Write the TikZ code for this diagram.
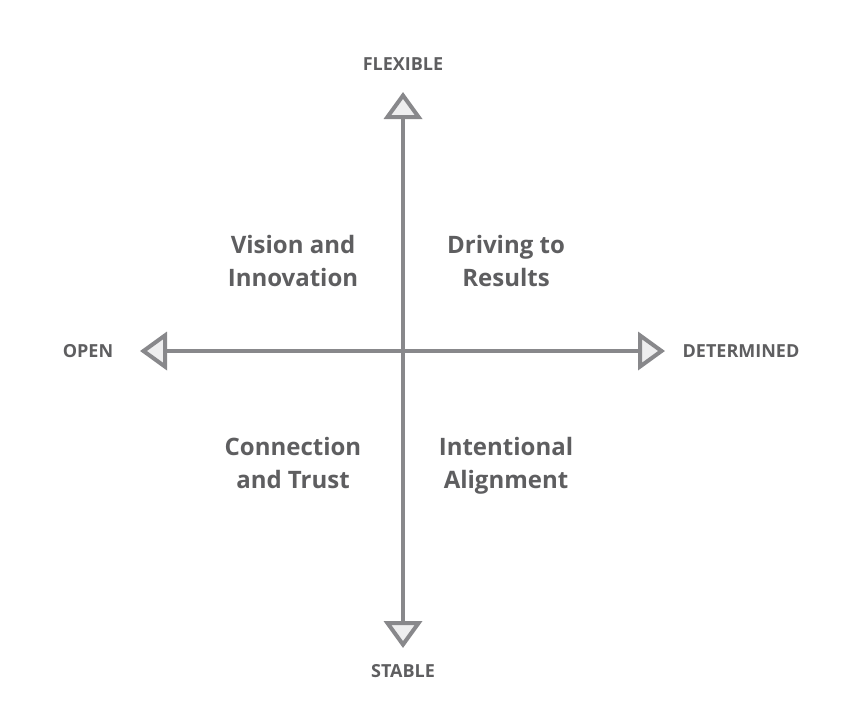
\documentclass[tikz,border=0pt]{standalone}
\usepackage{fontspec}
\setmainfont{Open Sans}
\usetikzlibrary{arrows.meta,positioning}
\definecolor{axisgray}{HTML}{88888B}
\definecolor{tipfill}{HTML}{EEEEEF}
\definecolor{txtgray}{HTML}{5E5E60}
\tikzset{
  axisln/.style={{Triangle[length=27pt,width=38pt,fill=tipfill]}-{Triangle[length=27pt,width=38pt,fill=tipfill]},
    line width=4pt, axisgray},
  poletxt/.style={txtgray, font=\bfseries\fontsize{18}{21}\selectfont},
  quadtxt/.style={txtgray, align=center, font=\bfseries\fontsize{24}{33}\selectfont},
}
\begin{document}
\begin{tikzpicture}[x=1pt,y=-1pt]
    \useasboundingbox (0,0) rectangle (861,725);
    % --- axes ---
    \coordinate (top) at (403,92);
    \coordinate (bot) at (403,648);
    \coordinate (lft) at (140,351);
    \coordinate (rgt) at (665,351);
    \draw[axisln] (bot) -- (top);
    \draw[axisln] (lft) -- (rgt);
    % --- poles ---
    \node[poletxt] (flexible) at (403,64) {FLEXIBLE};
    \node[poletxt] (stable) at (403,671) {STABLE};
    \node[poletxt] (open) at (88,351) {OPEN};
    \node[poletxt] (determined) at (741,351) {DETERMINED};
    % --- quadrants ---
    \node[quadtxt] (vision) at (293,261) {Vision and\\Innovation};
    \node[quadtxt] (driving) at (506,261) {Driving to\\Results};
    \node[quadtxt] (connection) at (293,463) {Connection\\and Trust};
    \node[quadtxt] (intentional) at (506,466) {Intentional\\Alignment};
  \end{tikzpicture}
\end{document}
